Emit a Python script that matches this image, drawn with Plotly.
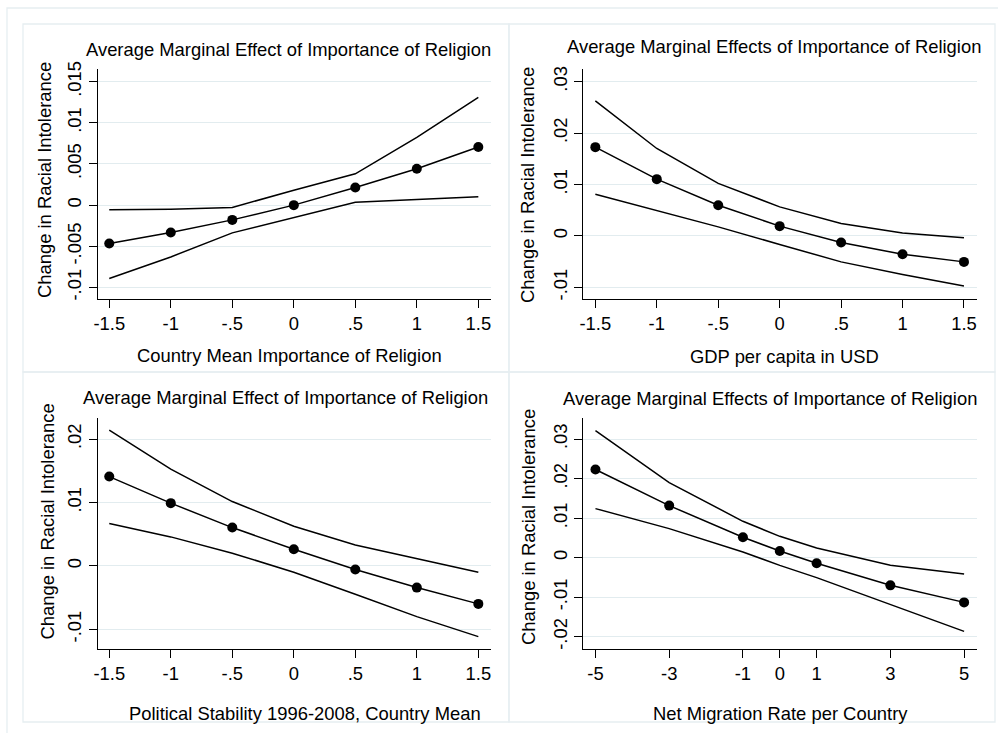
import plotly.graph_objects as go

W, H = 998, 733

# ---------------- data ----------------
x_std = [-1.5, -1, -0.5, 0, 0.5, 1, 1.5]
x_std_labels = ["-1.5", "-1", "-.5", "0", ".5", "1", "1.5"]
x_mig = [-5, -3, -1, 0, 1, 3, 5]
x_mig_labels = ["-5", "-3", "-1", "0", "1", "3", "5"]

# Panel 1: Country Mean Importance of Religion
p1_est = [-0.00466, -0.00332, -0.00179, 0.0, 0.00215, 0.00442, 0.00706]
p1_hi = [-0.00057, -0.00049, -0.00028, 0.00182, 0.00381, 0.00824, 0.0131]
p1_lo = [-0.00892, -0.00629, -0.00337, -0.0015, 0.00036, 0.00069, 0.00101]

# Panel 2: GDP per capita in USD
p2_est = [0.01726, 0.01103, 0.00597, 0.00189, -0.00128, -0.00356, -0.00506]
p2_hi = [0.02626, 0.0170, 0.0102, 0.00564, 0.00241, 0.00058, -0.00039]
p2_lo = [0.00811, 0.0050, 0.00175, -0.00167, -0.00506, -0.00751, -0.00973]

# Panel 3: Political Stability
p3_est = [0.01408, 0.00989, 0.00604, 0.00263, -0.00058, -0.00342, -0.00599]
p3_hi = [0.0214, 0.01525, 0.01014, 0.00626, 0.00331, 0.00121, -0.00099]
p3_lo = [0.00667, 0.00457, 0.0020, -0.00099, -0.00446, -0.0080, -0.01115]

# Panel 4: Net Migration Rate
p4_est = [0.02228, 0.01316, 0.00514, 0.00167, -0.00144, -0.00701, -0.01132]
p4_hi = [0.03215, 0.01899, 0.00919, 0.00539, 0.00243, -0.00195, -0.00415]
p4_lo = [0.0124, 0.00734, 0.00142, -0.00195, -0.00506, -0.01182, -0.01866]

y1_ticks = [-0.01, -0.005, 0, 0.005, 0.01, 0.015]
y1_labels = ["-.01", "-.005", "0", ".005", ".01", ".015"]
y2_ticks = [-0.01, 0, 0.01, 0.02, 0.03]
y2_labels = ["-.01", "0", ".01", ".02", ".03"]
y3_ticks = [-0.01, 0, 0.01, 0.02]
y3_labels = ["-.01", "0", ".01", ".02"]
y4_ticks = [-0.02, -0.01, 0, 0.01, 0.02, 0.03]
y4_labels = ["-.02", "-.01", "0", ".01", ".02", ".03"]

titles = ["Average Marginal Effect of Importance of Religion",
          "Average Marginal Effects of Importance of Religion",
          "Average Marginal Effect of Importance of Religion",
          "Average Marginal Effects of Importance of Religion"]
xtitles = ["Country Mean Importance of Religion",
           "GDP per capita in USD",
           "Political Stability 1996-2008, Country Mean",
           "Net Migration Rate per Country"]
ytitle = "Change in Racial Intolerance"

# ---------------- layout helpers ----------------
def px(x):
    return x / W

def py(y):
    return 1 - y / H

FONT = "Liberation Sans, Arial, sans-serif"
FS = 18.4
GRID = "#E2ECEF"
BORDER = "#E6EEF1"

panels = [
    dict(x=x_std, xl=x_std_labels, est=p1_est, hi=p1_hi, lo=p1_lo,
         yt=y1_ticks, yl=y1_labels, xr=[-1.594, 1.603], yr=[-0.0114, 0.0165],
         box=(97.7, 491, 69.3, 299), title=(288.5, 49), xt=(289.5, 355), yti=(45, 180)),
    dict(x=x_std, xl=x_std_labels, est=p2_est, hi=p2_hi, lo=p2_lo,
         yt=y2_ticks, yl=y2_labels, xr=[-1.598, 1.606], yr=[-0.01228, 0.0324],
         box=(583.3, 977, 69.3, 299), title=(773.5, 46), xt=(784.7, 356.5), yti=(527, 185)),
    dict(x=x_std, xl=x_std_labels, est=p3_est, hi=p3_hi, lo=p3_lo,
         yt=y3_ticks, yl=y3_labels, xr=[-1.594, 1.603], yr=[-0.0131, 0.02336],
         box=(97.7, 491, 417.7, 649), title=(285.5, 397), xt=(305, 713), yti=(46.5, 522)),
    dict(x=x_mig, xl=x_mig_labels, est=p4_est, hi=p4_hi, lo=p4_lo,
         yt=y4_ticks, yl=y4_labels, xr=[-5.33, 5.35], yr=[-0.02311, 0.03524],
         box=(583.3, 977, 418.3, 649), title=(769.5, 398), xt=(780, 713), yti=(528, 527)),
]

fig = go.Figure()
annotations = []
shapes = []

# outer border and panel borders
shapes.append(dict(type="rect", xref="paper", yref="paper",
                   x0=px(7), x1=px(1010), y0=py(745), y1=py(8),
                   line=dict(color=BORDER, width=1.3), fillcolor="rgba(0,0,0,0)", layer="below"))
for (x0, y0, x1, y1) in [(23, 24, 509, 372), (509, 24, 995, 372),
                         (23, 372, 509, 722), (509, 372, 995, 722)]:
    shapes.append(dict(type="rect", xref="paper", yref="paper",
                       x0=px(x0), x1=px(x1), y0=py(y1), y1=py(y0),
                       line=dict(color=BORDER, width=1.3), fillcolor="rgba(0,0,0,0)", layer="below"))

for i, p in enumerate(panels, start=1):
    xa = "x" if i == 1 else f"x{i}"
    ya = "y" if i == 1 else f"y{i}"
    for series, show_m in [(p["hi"], False), (p["lo"], False), (p["est"], True)]:
        fig.add_trace(go.Scatter(
            x=p["x"], y=series, xaxis=xa, yaxis=ya,
            mode="lines+markers" if show_m else "lines",
            line=dict(color="black", width=1.5),
            marker=dict(color="black", size=10),
            showlegend=False, hoverinfo="x+y"))
    bx0, bx1, by0, by1 = p["box"]
    xkey = "xaxis" if i == 1 else f"xaxis{i}"
    ykey = "yaxis" if i == 1 else f"yaxis{i}"
    fig.layout[xkey] = dict(
        domain=[px(bx0), px(bx1)], range=p["xr"], anchor=ya,
        tickmode="array", tickvals=p["x"], ticktext=p["xl"],
        ticks="outside", ticklen=8, tickwidth=1.2, tickcolor="black",
        showline=True, linecolor="black", linewidth=1.2,
        showgrid=False, zeroline=False, automargin=False,
        tickfont=dict(family=FONT, size=FS, color="black"))
    fig.layout[ykey] = dict(
        domain=[py(by1), py(by0)], range=p["yr"], anchor=xa,
        tickmode="array", tickvals=p["yt"], ticktext=p["yl"],
        ticks="outside", ticklen=8, tickwidth=1.2, tickcolor="black",
        showline=True, linecolor="black", linewidth=1.2,
        showgrid=True, gridcolor=GRID, gridwidth=1.3, zeroline=False,
        tickangle=-90, automargin=False,
        tickfont=dict(family=FONT, size=FS, color="black"))
    annotations.append(dict(text=titles[i - 1], xref="paper", yref="paper",
                            x=px(p["title"][0]), y=py(p["title"][1]),
                            xanchor="center", yanchor="middle", showarrow=False,
                            font=dict(family=FONT, size=FS, color="black")))
    annotations.append(dict(text=xtitles[i - 1], xref="paper", yref="paper",
                            x=px(p["xt"][0]), y=py(p["xt"][1]),
                            xanchor="center", yanchor="middle", showarrow=False,
                            font=dict(family=FONT, size=FS, color="black")))
    annotations.append(dict(text=ytitle, xref="paper", yref="paper",
                            x=px(p["yti"][0]), y=py(p["yti"][1]), textangle=-90,
                            xanchor="center", yanchor="middle", showarrow=False,
                            font=dict(family=FONT, size=FS, color="black")))

fig.update_layout(template="none", width=W, height=H,
                  margin=dict(l=0, r=0, t=0, b=0, pad=0),
                  paper_bgcolor="white", plot_bgcolor="white",
                  annotations=annotations, shapes=shapes,
                  font=dict(family=FONT, size=FS, color="black"))

fig.write_html("out.html", config={"displayModeBar": False},
               post_script="document.body.style.margin='0';document.body.style.overflow='hidden';")
